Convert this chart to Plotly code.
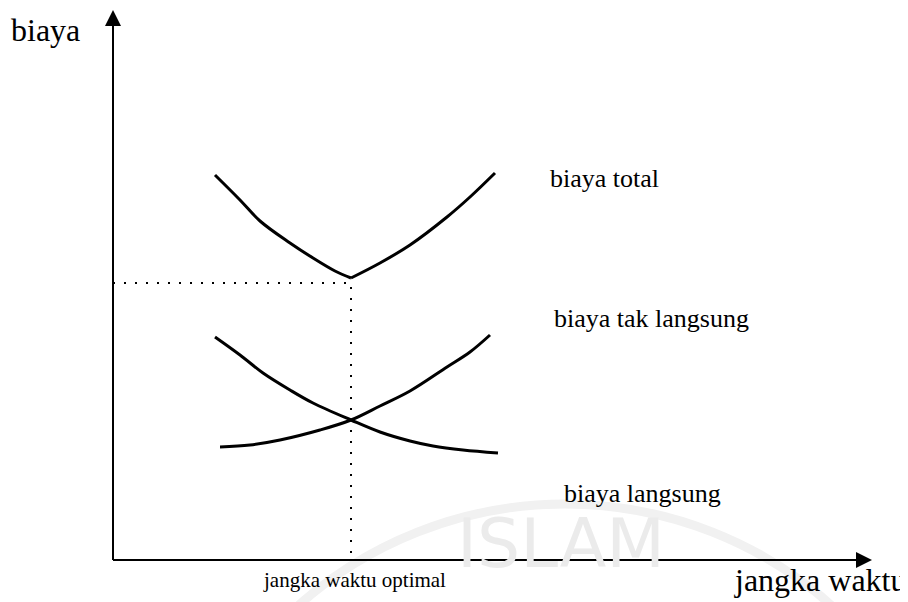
import plotly.graph_objects as go

# ---- data (conceptual units: time on x, cost on y) ----
total_left_x = [1.02, 1.27, 1.47, 1.77, 2.00, 2.22, 2.38]
total_left_y = [3.85, 3.60, 3.39, 3.17, 3.02, 2.89, 2.82]
total_right_x = [2.38, 2.67, 2.97, 3.34, 3.57, 3.82]
total_right_y = [2.82, 2.97, 3.15, 3.43, 3.63, 3.87]

indirect_x = [1.07, 1.37, 1.67, 2.07, 2.38, 2.67, 2.97, 3.34, 3.57, 3.77]
indirect_y = [1.13, 1.15, 1.20, 1.30, 1.40, 1.54, 1.69, 1.93, 2.08, 2.25]

direct_x = [1.02, 1.27, 1.50, 1.77, 2.00, 2.38, 2.67, 2.97, 3.20, 3.50, 3.85]
direct_y = [2.23, 2.05, 1.87, 1.70, 1.57, 1.40, 1.28, 1.19, 1.14, 1.10, 1.07]

optimal_x = 2.38
optimal_y = 2.77

labels = {"total": "biaya total", "indirect": "biaya tak langsung", "direct": "biaya langsung"}
y_title = "biaya"
x_title = "jangka waktu"
opt_label = "jangka waktu optimal"
watermark = "ISLAM"

FONT = "Liberation Serif"

fig = go.Figure()

curve_style = dict(color="black", width=3, shape="spline", smoothing=1.0)
for xs, ys in [(total_left_x, total_left_y), (total_right_x, total_right_y),
               (indirect_x, indirect_y), (direct_x, direct_y)]:
    fig.add_trace(go.Scatter(x=xs, y=ys, mode="lines", line=curve_style, hoverinfo="skip"))

# dotted guide lines
fig.add_trace(go.Scatter(x=[0, optimal_x, optimal_x], y=[optimal_y, optimal_y, 0], mode="lines",
                         line=dict(color="black", width=2, dash="2px,9px"), hoverinfo="skip"))

# faint watermark (arc + text)
fig.add_shape(type="circle", x0=4.52 - 4.01, x1=4.52 + 4.01, y0=-3.45 - 4.01, y1=-3.45 + 4.01,
              line=dict(color="#f1f1f1", width=9), layer="below")
fig.add_annotation(x=4.48, y=0.17, text=watermark, showarrow=False,
                   font=dict(family="DejaVu Sans", size=68, color="#ebebeb"))

# axes lines
fig.add_shape(type="line", x0=0, y0=0, x1=0, y1=5.35, line=dict(color="black", width=2))
fig.add_shape(type="line", x0=0, y0=0, x1=7.45, y1=0, line=dict(color="black", width=2))
# arrowheads
fig.add_annotation(x=0, y=5.50, ax=0, ay=5.2, xref="x", yref="y", axref="x", ayref="y",
                   showarrow=True, arrowhead=2, arrowsize=1.6, arrowwidth=2, arrowcolor="black", text="")
fig.add_annotation(x=7.59, y=0, ax=7.3, ay=0, xref="x", yref="y", axref="x", ayref="y",
                   showarrow=True, arrowhead=2, arrowsize=1.6, arrowwidth=2, arrowcolor="black", text="")

# text labels
fig.add_annotation(x=-0.68, y=5.30, text=y_title, showarrow=False, font=dict(family=FONT, size=32, color="black"))
fig.add_annotation(x=7.07, y=-0.20, text=x_title, showarrow=False, font=dict(family=FONT, size=32, color="black"))
fig.add_annotation(x=2.41, y=-0.20, text=opt_label, showarrow=False, font=dict(family=FONT, size=21, color="black"))
fig.add_annotation(x=4.35, y=3.82, text=labels["total"], showarrow=False, xanchor="left",
                   font=dict(family=FONT, size=26, color="black"))
fig.add_annotation(x=4.39, y=2.42, text=labels["indirect"], showarrow=False, xanchor="left",
                   font=dict(family=FONT, size=26, color="black"))
fig.add_annotation(x=4.49, y=0.67, text=labels["direct"], showarrow=False, xanchor="left",
                   font=dict(family=FONT, size=26, color="black"))

# ranges account for the page's default 8px body margin
fig.update_layout(
    width=908, height=602,
    margin=dict(l=0, r=0, t=0, b=0),
    paper_bgcolor="white", plot_bgcolor="white",
    showlegend=False,
    xaxis=dict(range=[-1.05, 8.03], visible=False, fixedrange=True),
    yaxis=dict(range=[-0.50, 5.52], visible=False, fixedrange=True),
)

fig.write_html("out.html")
